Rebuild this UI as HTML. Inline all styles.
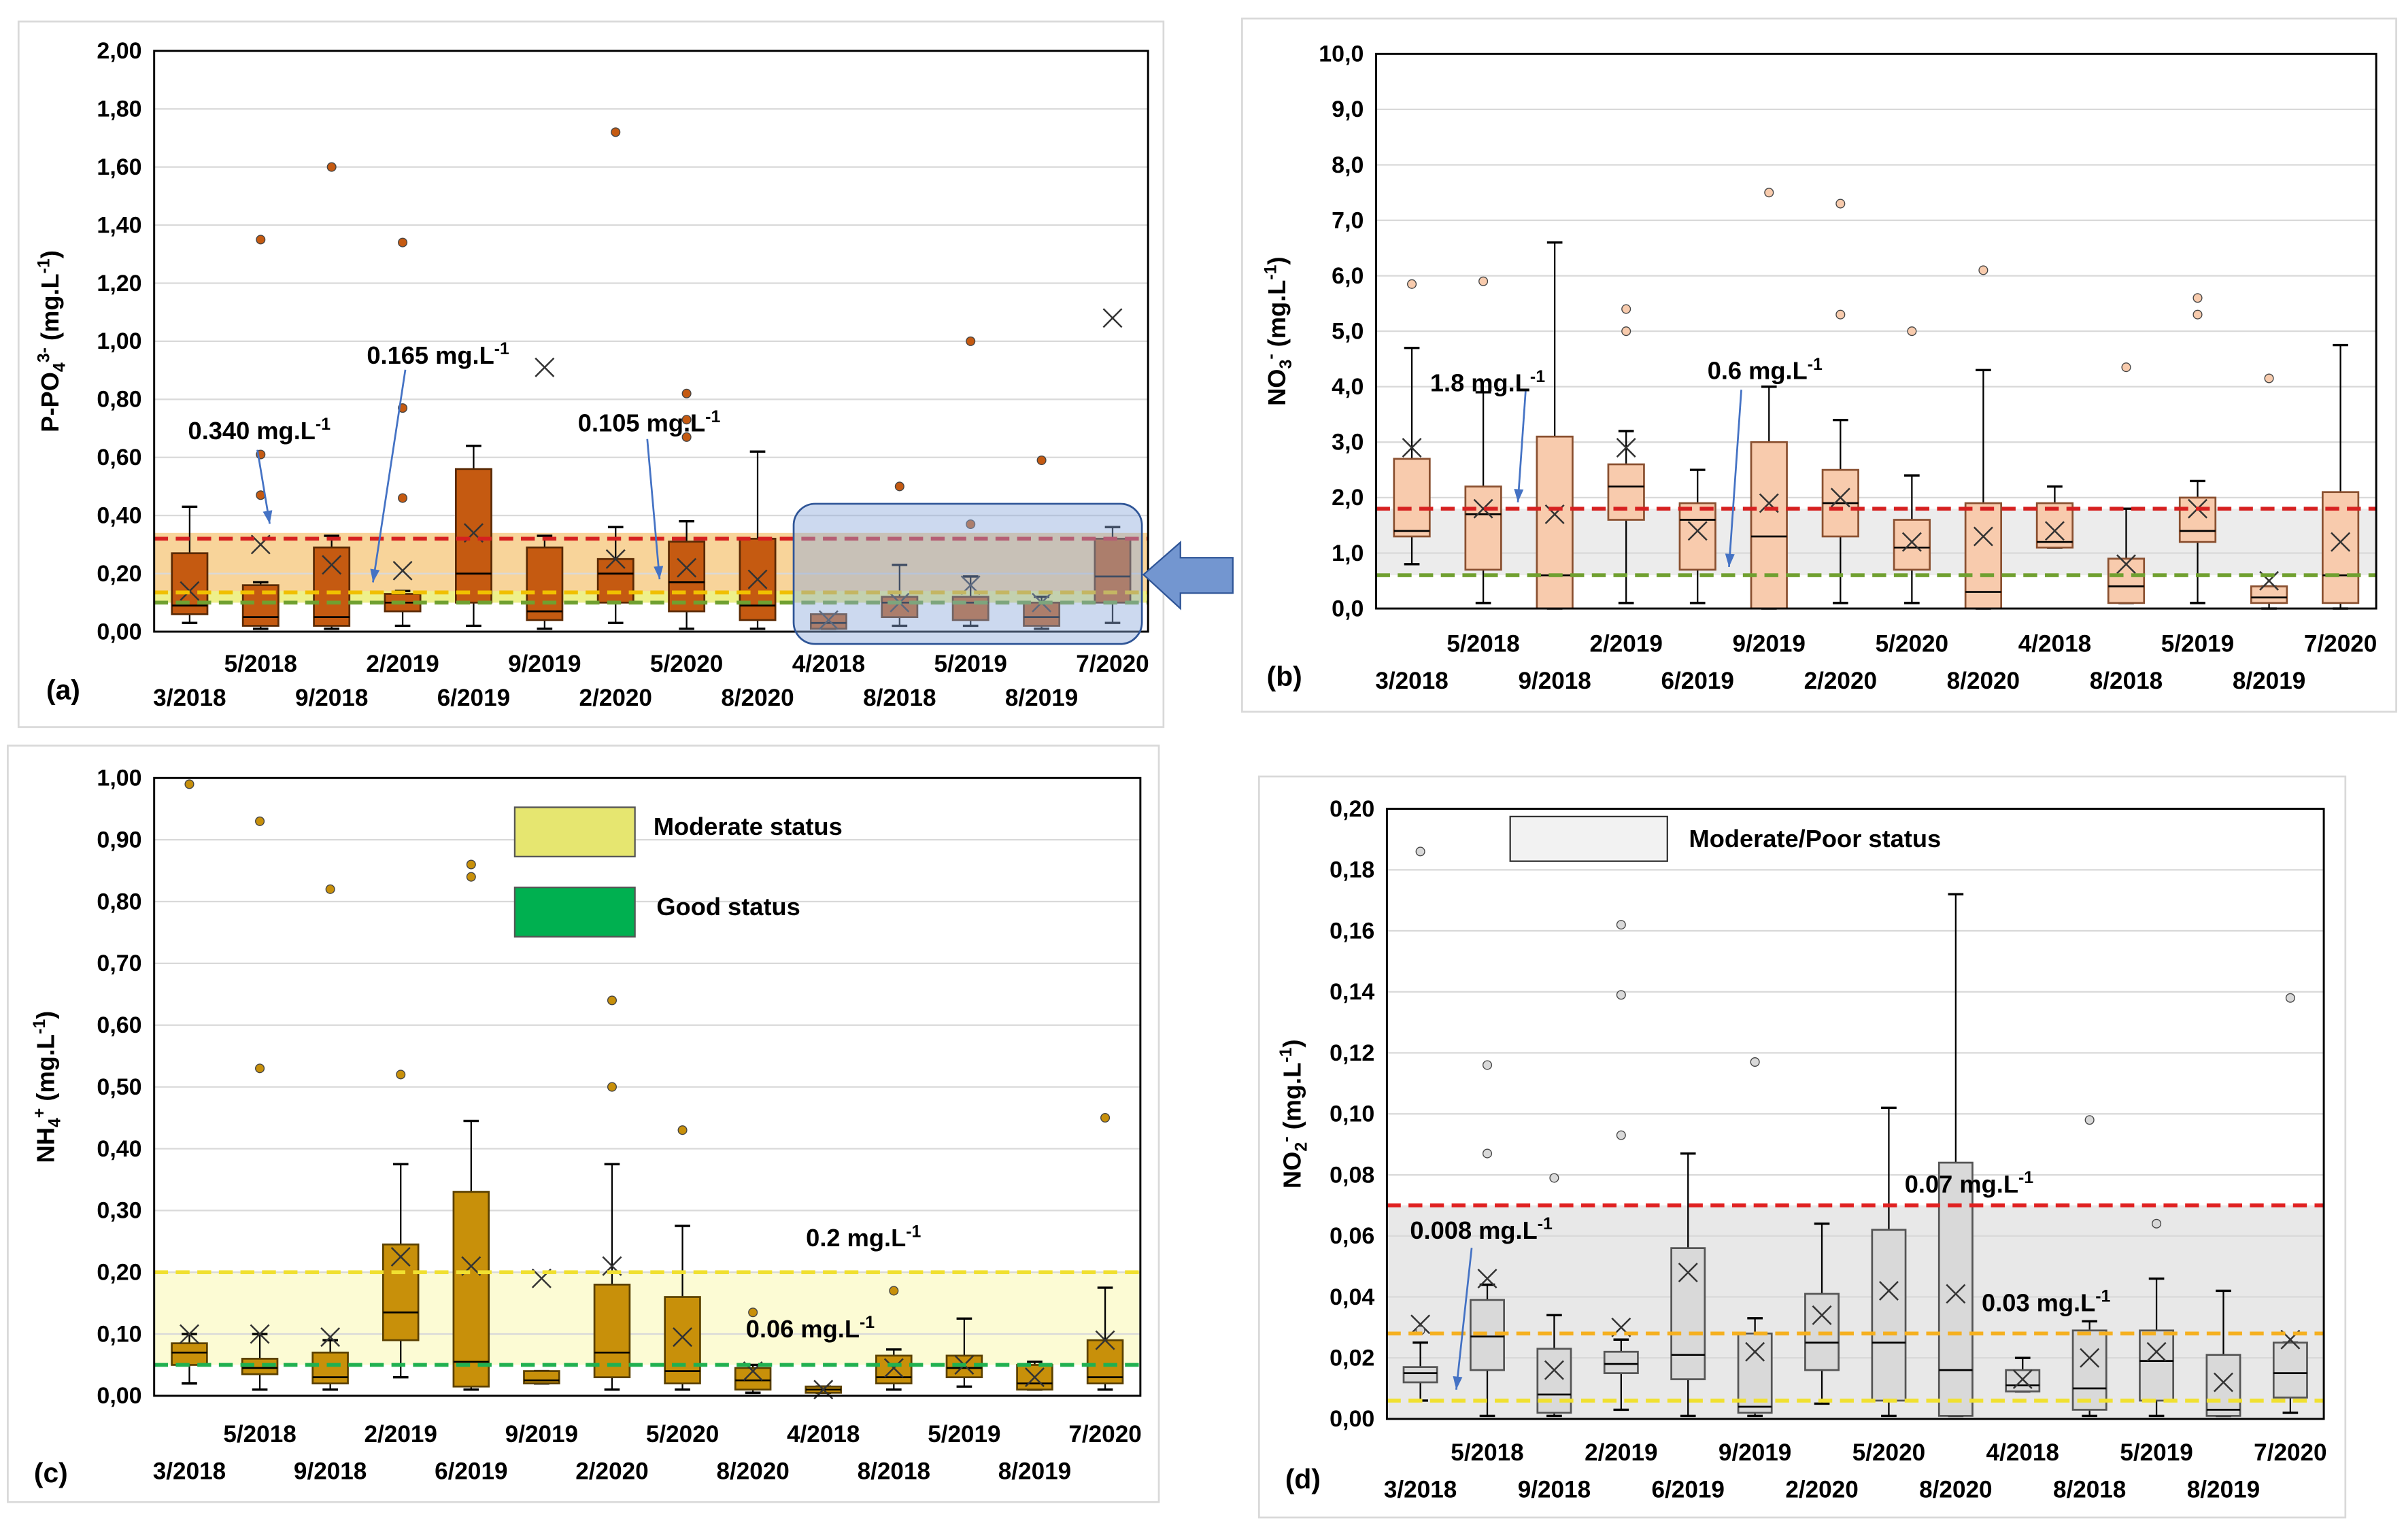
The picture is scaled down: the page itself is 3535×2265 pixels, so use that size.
<!DOCTYPE html>
<html><head><meta charset="utf-8"><style>html,body{margin:0;padding:0;background:#fff}svg{display:block}text{font-family:"Liberation Sans",sans-serif;font-weight:bold}</style></head>
<body>
<svg id="s" width="3535" height="2265" viewBox="0 0 1560 999.6" xmlns="http://www.w3.org/2000/svg"></svg>
<script>
const cats=["3/2018","5/2018","9/2018","2/2019","6/2019","9/2019","2/2020","5/2020","8/2020","4/2018","8/2018","5/2019","8/2019","7/2020"];
// [low, q1, median, q3, high, mean]
const boxesA=[[.03,.06,.09,.27,.43,.14],[.01,.02,.05,.16,.17,.30],[.01,.02,.05,.29,.33,.23],[.02,.07,.10,.13,.14,.21],[.02,.10,.20,.56,.64,.34],[.01,.04,.07,.29,.33,.91],[.03,.10,.20,.25,.36,.25],[.01,.07,.17,.31,.38,.22],[.01,.04,.09,.32,.62,.18],[.01,.01,.03,.06,.06,.04],[.02,.05,.10,.12,.23,.10],[.02,.04,.10,.12,.19,.16],[.01,.02,.05,.10,.12,.10],[.03,.10,.19,.32,.36,1.08]];
const outA=[[],[1.35,.61,.47],[1.60],[1.34,.77,.46],[],[],[1.72],[.82,.73,.67],[],[],[.50],[1.00,.37],[.59],[]];
const boxesB=[[.8,1.3,1.4,2.7,4.7,2.9],[.1,.7,1.7,2.2,3.9,1.8],[0,0,.6,3.1,6.6,1.7],[.1,1.6,2.2,2.6,3.2,2.9],[.1,.7,1.6,1.9,2.5,1.4],[0,0,1.3,3.0,4.0,1.9],[.1,1.3,1.9,2.5,3.4,2.0],[.1,.7,1.1,1.6,2.4,1.2],[0,0,.3,1.9,4.3,1.3],[1.1,1.1,1.2,1.9,2.2,1.4],[.1,.1,.4,.9,1.8,.8],[.1,1.2,1.4,2.0,2.3,1.8],[0,.1,.2,.4,.4,.5],[0,.1,.6,2.1,4.75,1.2]];
const outB=[[5.85],[5.9],[],[5.4,5.0],[],[7.5],[7.3,5.3],[5.0],[6.1],[],[4.35],[5.6,5.3],[4.15],[]];
const boxesC=[[.02,.05,.07,.085,.10,.10],[.01,.035,.045,.06,.10,.10],[.01,.02,.03,.07,.09,.095],[.03,.09,.135,.245,.375,.225],[.01,.015,.055,.33,.445,.21],[.02,.02,.025,.04,.04,.19],[.01,.03,.07,.18,.375,.21],[.01,.02,.04,.16,.275,.095],[.005,.01,.025,.045,.05,.04],[.005,.005,.01,.015,.015,.01],[.01,.02,.03,.065,.075,.045],[.015,.03,.045,.065,.125,.05],[.01,.01,.02,.05,.055,.03],[.01,.02,.03,.09,.175,.09]];
const outC=[[.99],[.93,.53],[.82],[.52],[.86,.84],[],[.64,.50],[.43],[.135],[],[.17],[],[],[.45]];
const boxesD=[[.006,.012,.015,.017,.025,.031],[.001,.016,.027,.039,.044,.046],[.001,.002,.008,.023,.034,.016],[.003,.015,.018,.022,.026,.030],[.001,.013,.021,.056,.087,.048],[.001,.002,.004,.028,.033,.022],[.005,.016,.025,.041,.064,.034],[.001,.006,.025,.062,.102,.042],[.001,.001,.016,.084,.172,.041],[.009,.009,.011,.016,.02,.013],[.001,.003,.01,.029,.032,.02],[.001,.006,.019,.029,.046,.022],[.001,.001,.003,.021,.042,.012],[.002,.007,.015,.025,.025,.026]];
const outD=[[.186,.029],[.116,.087],[.079],[.162,.139,.093],[],[.117],[],[],[],[],[.098],[.064],[],[.138]];
const ticksA=["0,00","0,20","0,40","0,60","0,80","1,00","1,20","1,40","1,60","1,80","2,00"];
const ticksB=["0,0","1,0","2,0","3,0","4,0","5,0","6,0","7,0","8,0","9,0","10,0"];
const ticksC=["0,00","0,10","0,20","0,30","0,40","0,50","0,60","0,70","0,80","0,90","1,00"];
const ticksD=["0,00","0,02","0,04","0,06","0,08","0,10","0,12","0,14","0,16","0,18","0,20"];
const S=document.getElementById('s');const NS="http://www.w3.org/2000/svg";
function el(t,a,p){const e=document.createElementNS(NS,t);for(const k in a)e.setAttribute(k,a[k]);(p||S).appendChild(e);return e;}
function txt(x,y,s,a,p){const e=el('text',Object.assign({x:x,y:y},a),p);e.textContent=s;return e;}
function panel(o){
 const g=el('g',{});
 const fr=el('rect',{x:o.fx,y:o.fy,width:o.fw,height:o.fh,fill:'#fff',stroke:'#d9d9d9','stroke-width':1.2},g);
 const {x0,x1,y0,y1,max}=o;const Y=v=>y0-(v/max)*(y0-y1);const bw=(x1-x0)/cats.length;const X=i=>x0+bw*(i+0.5);
 if(o.bands)o.bands.forEach(b=>{const r=el('rect',{x:x0,y:Y(b[1]),width:x1-x0,height:Y(b[0])-Y(b[1]),fill:b[2]},g);});
 o.ticks.forEach((t,i)=>{const v=max*i/(o.ticks.length-1);if(i>0)el('line',{x1:x0,x2:x1,y1:Y(v),y2:Y(v),stroke:'#d9d9d9','stroke-width':1},g);
  const tl=txt(x0-8,Y(v)+5,t,{'text-anchor':'end','font-size':15},g);});
 if(o.pre)o.pre(g,X,Y);
 o.boxes.forEach((b,i)=>{const cx=X(i),w=bw*0.5;const bg=el('g',{},g);
  el('line',{x1:cx,x2:cx,y1:Y(b[0]),y2:Y(b[1]),stroke:'#000','stroke-width':1},bg);
  el('line',{x1:cx,x2:cx,y1:Y(b[3]),y2:Y(b[4]),stroke:'#000','stroke-width':1},bg);
  el('line',{x1:cx-5,x2:cx+5,y1:Y(b[0]),y2:Y(b[0]),stroke:'#000','stroke-width':1.5},bg);
  el('line',{x1:cx-5,x2:cx+5,y1:Y(b[4]),y2:Y(b[4]),stroke:'#000','stroke-width':1.5},bg);
  el('rect',{x:cx-w/2,y:Y(b[3]),width:w,height:Math.max(1,Y(b[1])-Y(b[3])),fill:o.fill,stroke:o.edge,'stroke-width':1.2},bg);
  el('line',{x1:cx-w/2,x2:cx+w/2,y1:Y(b[2]),y2:Y(b[2]),stroke:'#000','stroke-width':1.2},bg);
  const m=Y(b[5]);el('path',{d:`M${cx-6} ${m-6}L${cx+6} ${m+6}M${cx-6} ${m+6}L${cx+6} ${m-6}`,stroke:'#333','stroke-width':1.1,fill:'none'},bg);
  o.outs[i].forEach(v=>{el('circle',{cx:cx,cy:Y(v),r:2.8,fill:o.dot,stroke:'#444','stroke-width':.6},bg);});
  const lab=txt(cx,i%2?o.ly1:o.ly2,cats[i],{'text-anchor':'middle','font-size':15.5},g);
 });
 o.lines.forEach(l=>{const d=el('line',{x1:x0,x2:x1,y1:Y(l[0]),y2:Y(l[0]),stroke:l[1],'stroke-width':2.5,'stroke-dasharray':'9,5'},g);});
 el('rect',{x:x0,y:y1,width:x1-x0,height:y0-y1,fill:'none',stroke:'#000','stroke-width':1.3},g);
 const yt=txt(0,0,'',{'font-size':16,transform:`translate(${o.ytx},${(y0+y1)/2}) rotate(-90)`,'text-anchor':'middle'},g);yt.innerHTML=o.ytitle;
 const pl=txt(o.plx,o.ply,o.plabel,{'font-size':18},g);
 if(o.post)o.post(g,X,Y);
}
function ann(g,x,y,html){const t=txt(x,y,'',{'font-size':16},g);t.innerHTML=html;}
function arrow(g,x1,y1,x2,y2){el('line',{x1:x1,y1:y1,x2:x2,y2:y2,stroke:'#4472c4','stroke-width':1.2},g);const a=Math.atan2(y2-y1,x2-x1);
 el('path',{d:`M${x2} ${y2}L${x2-9*Math.cos(a-0.35)} ${y2-9*Math.sin(a-0.35)}L${x2-9*Math.cos(a+0.35)} ${y2-9*Math.sin(a+0.35)}Z`,fill:'#4472c4'},g);}
const L1=' mg.L<tspan dy="-6" font-size="11">-1</tspan>';
panel({name:'panel-a-phosphate',fx:12,fy:14,fw:743,fh:458,x0:100,x1:745,y0:410,y1:33,max:2,ticks:ticksA,boxes:boxesA,outs:outA,fill:'#c55a11',edge:'#5a2a05',dot:'#c55a11',
 bands:[[.10,.34,'#f8d49a'],[.10,.14,'#eef08a']],lines:[[.32,'#d62020'],[.135,'#f0c000'],[.10,'#70a030']],ly1:436,ly2:458,ytx:38,plx:30,ply:454,plabel:'(a)',
 ytitle:'P-PO<tspan dy="4" font-size="11">4</tspan><tspan dy="-10" font-size="11">3-</tspan><tspan dy="6"> (mg.L</tspan><tspan dy="-6" font-size="11">-1</tspan><tspan dy="6">)</tspan>',
 post:(g,X,Y)=>{const r=el('rect',{x:515,y:327,width:226,height:91,rx:14,fill:'#8eaadb','fill-opacity':.45,stroke:'#2f5597','stroke-width':1.2},g);
  const ar=el('path',{d:'M742 373L766 352L766 362L800 362L800 385L766 385L766 395Z',fill:'#7396d0',stroke:'#2f5597','stroke-width':1},g);
  ann(g,122,285,'0.340'+L1);ann(g,238,236,'0.165'+L1);ann(g,375,280,'0.105'+L1);arrow(g,167,292,175,340);arrow(g,263,240,242,378);arrow(g,420,285,428,376);}});
panel({name:'panel-b-nitrate',fx:806,fy:12,fw:749,fh:450,x0:893,x1:1542,y0:395,y1:35,max:10,ticks:ticksB,boxes:boxesB,outs:outB,fill:'#f8cbad',edge:'#8a5030',dot:'#f8cbad',
 bands:[[.6,1.8,'#ececec']],lines:[[1.8,'#d62020'],[.6,'#70a030']],ly1:423,ly2:447,ytx:834,plx:822,ply:445,plabel:'(b)',
 ytitle:'NO<tspan dy="4" font-size="11">3</tspan><tspan dy="-10" font-size="11">-</tspan><tspan dy="6"> (mg.L</tspan><tspan dy="-6" font-size="11">-1</tspan><tspan dy="6">)</tspan>',
 post:g=>{ann(g,928,254,'1.8'+L1);ann(g,1108,246,'0.6'+L1);arrow(g,990,254,985,326);arrow(g,1130,253,1122,368);}});
panel({name:'panel-c-ammonium',fx:5,fy:484,fw:747,fh:491,x0:100,x1:740,y0:906,y1:505,max:1,ticks:ticksC,boxes:boxesC,outs:outC,fill:'#c8900a',edge:'#5a4000',dot:'#c8900a',
 bands:[[.05,.2,'#fcfbd4']],lines:[[.2,'#f0e030'],[.05,'#20b050']],ly1:936,ly2:960,ytx:35,plx:22,ply:962,plabel:'(c)',
 ytitle:'NH<tspan dy="4" font-size="11">4</tspan><tspan dy="-10" font-size="11">+</tspan><tspan dy="6"> (mg.L</tspan><tspan dy="-6" font-size="11">-1</tspan><tspan dy="6">)</tspan>',
 post:g=>{const a=el('rect',{x:334,y:524,width:78,height:32,fill:'#e6e670',stroke:'#555'},g);
  const b=el('rect',{x:334,y:576,width:78,height:32,fill:'#00b050',stroke:'#555'},g);
  const t1=txt(424,542,'Moderate status',{'font-size':16},g);
  const t2=txt(426,594,'Good status',{'font-size':16},g);
  ann(g,523,809,'0.2'+L1);ann(g,484,868,'0.06'+L1);}});
panel({name:'panel-d-nitrite',fx:817,fy:504,fw:705,fh:481,x0:900,x1:1508,y0:921,y1:525,max:.2,ticks:ticksD,boxes:boxesD,outs:outD,fill:'#d9d9d9',edge:'#555',dot:'#d9d9d9',
 bands:[[0,.07,'#e8e8e8']],lines:[[.07,'#e02020'],[.028,'#f5b020'],[.006,'#f0e030']],ly1:948,ly2:972,ytx:844,plx:834,ply:966,plabel:'(d)',
 ytitle:'NO<tspan dy="4" font-size="11">2</tspan><tspan dy="-10" font-size="11">-</tspan><tspan dy="6"> (mg.L</tspan><tspan dy="-6" font-size="11">-1</tspan><tspan dy="6">)</tspan>',
 post:g=>{const a=el('rect',{x:980,y:530,width:102,height:29,fill:'#f2f2f2',stroke:'#333'},g);
  const t=txt(1096,550,'Moderate/Poor status',{'font-size':16},g);
  ann(g,915,804,'0.008'+L1);ann(g,1236,774,'0.07'+L1);ann(g,1286,851,'0.03'+L1);arrow(g,955,810,945,902);}});
</script>
</body></html>
